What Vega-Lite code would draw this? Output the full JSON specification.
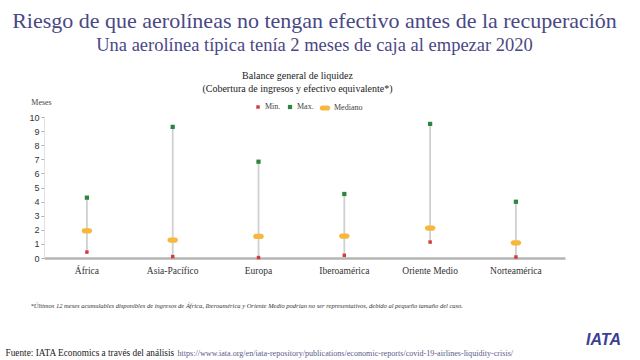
{
  "$schema": "https://vega.github.io/schema/vega-lite/v6.json",
  "autosize": "none",
  "width": 521,
  "height": 141,
  "padding": {"left": 44, "top": 117, "right": 75, "bottom": 102},
  "background": "white",
  "config": {"view": {"stroke": null}},
  "title": {
    "text": "Riesgo de que  aerolíneas no tengan efectivo antes de  la recuperación",
    "subtitle": "Una aerolínea típica tenía 2 meses de caja al empezar 2020",
    "anchor": "middle",
    "frame": "group",
    "dx": 10,
    "offset": 15,
    "font": "Liberation Serif",
    "fontSize": 22,
    "fontWeight": "normal",
    "color": "#4a4885",
    "subtitleFont": "Liberation Serif",
    "subtitleFontSize": 18.5,
    "subtitleColor": "#4a4885",
    "subtitlePadding": 3
  },
  "datasets": {
    "liq": [
      {"region": "África", "Min": 0.42, "Mediano": 1.93, "Max": 4.28},
      {"region": "Asia-Pacífico", "Min": 0.1, "Mediano": 1.27, "Max": 9.3},
      {"region": "Europa", "Min": 0.03, "Mediano": 1.53, "Max": 6.83},
      {"region": "Iberoamérica", "Min": 0.19, "Mediano": 1.56, "Max": 4.54},
      {"region": "Oriente Medio", "Min": 1.13, "Mediano": 2.12, "Max": 9.51},
      {"region": "Norteamérica", "Min": 0.07, "Mediano": 1.08, "Max": 3.99}
    ]
  },
  "data": {"name": "liq"},
  "resolve": {"axis": {"x": "independent", "y": "independent"}},
  "layer": [
    {
      "mark": {"type": "rule", "color": "#d0d0d0", "strokeWidth": 1.8},
      "encoding": {
        "x": {
          "field": "region", "type": "nominal", "sort": null,
          "scale": {"type": "band", "paddingInner": 0, "paddingOuter": 0.036, "align": 0},
          "axis": {
            "orient": "bottom", "labelAngle": 0, "labelFont": "Liberation Serif", "labelFontSize": 9.5,
            "labelColor": "#333", "labelPadding": 7, "ticks": false, "grid": false,
            "domainColor": "#b5b5b5", "domainWidth": 2.5,
            "title": "*Últimos 12 meses acumulables disponibles de ingresos de África, Iberoamérica y Oriente Medio podrían no ser representativos, debido al pequeño tamaño del caso.",
            "titleFont": "Liberation Serif", "titleFontStyle": "italic", "titleFontWeight": "normal",
            "titleFontSize": 6.5, "titleColor": "#333", "titleX": -14, "titleY": 47,
            "titleAlign": "left", "titleBaseline": "middle", "titleLimit": 1000
          }
        },
        "y": {
          "field": "Min", "type": "quantitative",
          "scale": {"domain": [0, 10], "nice": false},
          "axis": {
            "orient": "left", "values": [0,1,2,3,4,5,6,7,8,9,10], "grid": false,
            "labelFont": "Liberation Sans", "labelFontSize": 9, "labelColor": "#333", "labelPadding": 2,
            "tickSize": 3, "tickColor": "#999", "tickWidth": 0.8,
            "domainColor": "#d9d9d9", "domainWidth": 0.8,
            "title": "Meses", "titleAngle": 0, "titleX": -3, "titleY": -15, "titleAlign": "center",
            "titleBaseline": "middle", "titleFont": "Liberation Serif", "titleFontSize": 8,
            "titleFontWeight": "normal", "titleColor": "#444"
          }
        },
        "y2": {"field": "Max"}
      }
    },
    {
      "transform": [{"fold": ["Min", "Max", "Mediano"], "as": ["serie", "valor"]}],
      "mark": {"type": "point", "filled": true, "opacity": 1, "strokeWidth": 0},
      "encoding": {
        "x": {
          "field": "region", "type": "nominal", "sort": null,
          "axis": {
            "orient": "top", "labels": false, "ticks": false, "domain": false, "grid": false,
            "title": ["Balance general de liquidez", "(Cobertura de ingresos y efectivo equivalente*)"],
            "titleFont": "Liberation Serif", "titleFontSize": 10, "titleFontWeight": "normal",
            "titleColor": "#222", "titleX": 253, "titleY": -47, "titleAlign": "center",
            "titleBaseline": "top", "titleLineHeight": 13
          }
        },
        "y": {
          "field": "valor", "type": "quantitative",
          "axis": {
            "orient": "right", "labels": false, "ticks": false, "domain": false, "grid": false,
            "title": "IATA", "titleAngle": 0, "titleFont": "Liberation Sans", "titleFontSize": 16,
            "titleFontWeight": "bold", "titleFontStyle": "italic", "titleColor": "#3a3f94",
            "titleX": 38, "titleY": 222, "titleAlign": "center", "titleBaseline": "middle"
          }
        },
        "color": {
          "field": "serie", "type": "nominal",
          "scale": {"domain": ["Min", "Max", "Mediano"], "range": ["#d63b3b", "#2e8540", "#f6b73c"]},
          "legend": {
            "orient": "none", "legendX": 210, "legendY": -15, "direction": "horizontal",
            "title": null, "padding": 0, "columnPadding": 5, "labelOffset": 3,
            "labelFont": "Liberation Serif", "labelFontSize": 8, "labelColor": "#444",
            "labelExpr": "datum.label === 'Mediano' ? 'Mediano' : datum.label + '.'"
          }
        },
        "shape": {
          "field": "serie", "type": "nominal",
          "scale": {"domain": ["Min", "Max", "Mediano"], "range": ["square", "square", "M-0.5,-0.5L0.5,-0.5C0.78,-0.5,1,-0.28,1,0C1,0.28,0.78,0.5,0.5,0.5L-0.5,0.5C-0.78,0.5,-1,0.28,-1,0C-1,-0.28,-0.78,-0.5,-0.5,-0.5Z"]}
        },
        "size": {
          "field": "serie", "type": "nominal",
          "scale": {"type": "ordinal", "domain": ["Min", "Max", "Mediano"], "range": [12, 18, 110]}
        }
      }
    },
    {
      "mark": {"type": "point", "opacity": 0},
      "encoding": {
        "x": {
          "field": "region", "type": "nominal", "sort": null,
          "axis": {
            "orient": "bottom", "labels": false, "ticks": false, "domain": false, "grid": false,
            "title": "Fuente: IATA Economics a través del análisis",
            "titleFont": "Liberation Serif", "titleFontSize": 9.3, "titleFontWeight": "normal",
            "titleColor": "#222", "titleX": -39, "titleY": 94, "titleAlign": "left", "titleBaseline": "middle"
          }
        },
        "y": {"field": "Min", "type": "quantitative", "axis": null}
      }
    },
    {
      "mark": {"type": "point", "opacity": 0},
      "encoding": {
        "x": {
          "field": "region", "type": "nominal", "sort": null,
          "axis": {
            "orient": "bottom", "labels": false, "ticks": false, "domain": false, "grid": false,
            "title": "https://www.iata.org/en/iata-repository/publications/economic-reports/covid-19-airlines-liquidity-crisis/",
            "titleFont": "Liberation Serif", "titleFontSize": 8.1, "titleFontWeight": "normal",
            "titleColor": "#5a5a8c", "titleX": 133, "titleY": 95, "titleAlign": "left", "titleBaseline": "middle",
            "titleLimit": 1000
          }
        },
        "y": {"field": "Max", "type": "quantitative", "axis": null}
      }
    }
  ]
}
